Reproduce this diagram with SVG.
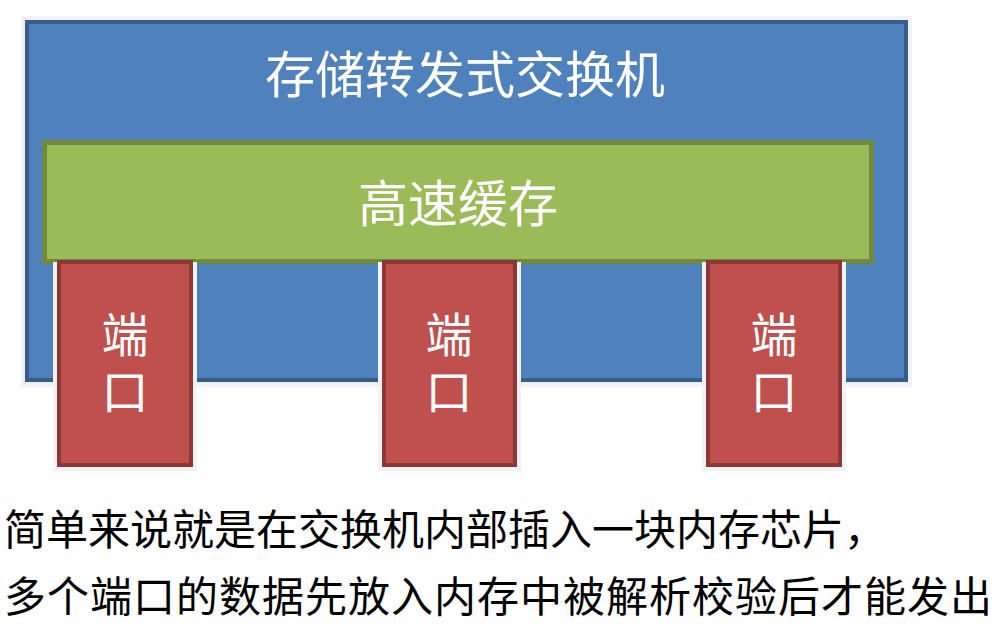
<svg xmlns="http://www.w3.org/2000/svg" width="999" height="627" viewBox="0 0 999 627">
<style>
.shadow{fill:#F0F2F5}
.blue{fill:#4F81BD;stroke:#385D8A;stroke-width:4}
.green{fill:#9BBB59;stroke:#71893F;stroke-width:5}
.red{fill:#C0504D;stroke:#8C3836;stroke-width:4}
.lbl{font-family:"Noto Sans CJK SC","Noto Sans",sans-serif;fill:#FFFFFF;text-anchor:middle;dominant-baseline:central}
.port{font-family:"Noto Sans CJK SC","Noto Sans",sans-serif;fill:#FFFFFF;text-anchor:middle;font-size:47px;writing-mode:vertical-rl;letter-spacing:10px}
.cap{font-family:"Noto Sans CJK SC","Noto Sans",sans-serif;fill:#000000;font-size:42px}
</style>
<rect width="999" height="627" fill="#FFFFFF"/>
<g id="switch">
<rect class="shadow" x="21" y="16" width="891" height="371"/>
<rect class="blue" x="27" y="22" width="879" height="358"/>
<text class="lbl" x="465" y="71" font-size="50">存储转发式交换机</text>
</g>
<g id="cache">
<rect class="green" x="44.5" y="142.5" width="827" height="119"/>
<text class="lbl" x="458" y="200" font-size="50">高速缓存</text>
</g>
<g id="port1">
<rect class="shadow" x="53" y="262" width="144" height="209"/>
<rect class="red" x="59" y="262" width="132" height="203"/>
<text class="port" x="125" y="368">端口</text>
</g>
<g id="port2">
<rect class="shadow" x="378" y="262" width="143" height="209"/>
<rect class="red" x="384" y="262" width="131" height="203"/>
<text class="port" x="449" y="368">端口</text>
</g>
<g id="port3">
<rect class="shadow" x="702" y="262" width="144" height="209"/>
<rect class="red" x="708" y="262" width="132" height="203"/>
<text class="port" x="774" y="368">端口</text>
</g>
<g id="connectors"></g>
<g id="caption">
<text class="cap" x="4" y="545">简单来说就是在交换机内部插入一块内存芯片，</text>
<text class="cap" x="4" y="612" textLength="988">多个端口的数据先放入内存中被解析校验后才能发出</text>
</g>
</svg>
